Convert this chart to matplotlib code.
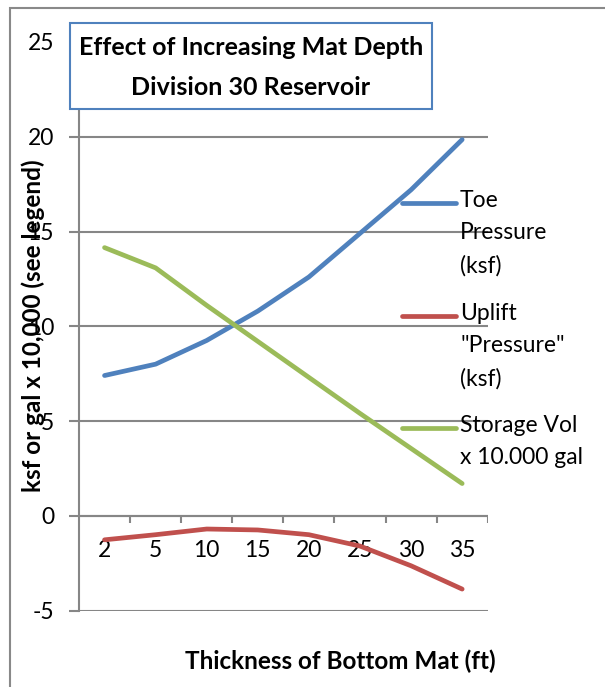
import numpy as np
import matplotlib.pyplot as plt
from matplotlib.lines import Line2D
from matplotlib.patches import Rectangle

plt.rcParams['font.family'] = ['Lato', 'DejaVu Sans']
plt.rcParams['axes.unicode_minus'] = False

# Mat thickness categories (ft)
thickness = ['2', '5', '10', '15', '20', '25', '30', '35']

# Series values
toe_pressure = [7.4, 8.0, 9.25, 10.8, 12.6, 14.9, 17.2, 19.85]
uplift_pressure = [-1.27, -1.0, -0.7, -0.75, -1.0, -1.6, -2.64, -3.87]
storage_vol = [14.15, 13.08, 11.1, 9.2, 7.3, 5.4, 3.55, 1.7]

series_names = ['Toe\nPressure\n(ksf)', 'Uplift\n"Pressure"\n(ksf)', 'Storage Vol\nx 10.000 gal']
colors = ['#4F81BD', '#C0504D', '#9BBB59']
grid_gray = '#868686'

W, H = 605, 687
fig = plt.figure(figsize=(W / 100, H / 100), dpi=100)

def fx(px):
    return px / W

def fy(py):
    return 1 - py / H

# outer chart border
fig.add_artist(Rectangle((fx(10), fy(720)), fx(640), fy(8) - fy(720),
                         transform=fig.transFigure, fill=False,
                         edgecolor='#898989', linewidth=1.5))

ax = fig.add_axes([fx(79), fy(610.5), fx(487.7) - fx(79), fy(42) - fy(610.5)])
x = np.arange(len(thickness))

ax.set_xlim(-0.5, len(thickness) - 0.5)
ax.set_ylim(-5, 25)
ax.set_yticks(np.arange(-5, 26, 5))
ax.yaxis.grid(True, color=grid_gray, linewidth=1.5)
ax.yaxis.get_gridlines()[-1].set_visible(False)
ax.set_axisbelow(True)
for side in ['top', 'right', 'bottom']:
    ax.spines[side].set_visible(False)
ax.spines['left'].set_color(grid_gray)
ax.spines['left'].set_linewidth(1.5)
ax.tick_params(axis='y', length=7, width=1.5, color=grid_gray, labelsize=16.5, pad=11)
ax.set_xticks([])

# category axis crossing at zero, with tick marks between categories
ax.axhline(0, color=grid_gray, linewidth=1.5, zorder=1)
ax.vlines(x + 0.5, -0.37, 0, color=grid_gray, linewidth=1.5, zorder=1)
for i, lab in enumerate(thickness):
    ax.annotate(lab, xy=(i, 0), xytext=(0, -25), textcoords='offset points',
                ha='center', va='center', fontsize=16.5)

for vals, c in zip([toe_pressure, uplift_pressure, storage_vol], colors):
    ax.plot(x, vals, color=c, linewidth=3.4, solid_capstyle='round', zorder=3)

# axis titles
fig.text(fx(33), fy(326), 'ksf or gal x 10,000 (see legend)', rotation=90,
         ha='center', va='center', fontsize=17.5, fontweight='bold')
fig.text(fx(340), fy(661), 'Thickness of Bottom Mat (ft)',
         ha='center', va='center', fontsize=17.5, fontweight='bold')

# chart title box
fig.add_artist(Rectangle((fx(70), fy(109)), fx(432) - fx(70), fy(23) - fy(109),
                         transform=fig.transFigure, facecolor='white',
                         edgecolor='#4F81BD', linewidth=1.5, zorder=5))
fig.text(fx(251), fy(67.5), 'Effect of Increasing Mat Depth\nDivision 30 Reservoir',
         ha='center', va='center', fontsize=18, fontweight='bold',
         linespacing=1.9, zorder=6)

# legend entries
legend_rows = [203, 316, 428]
for name, c, py in zip(series_names, colors, legend_rows):
    fig.add_artist(Line2D([fx(402), fx(456)], [fy(py), fy(py)], color=c,
                          linewidth=3.4, solid_capstyle='round',
                          transform=fig.transFigure))
    fig.text(fx(460), fy(py - 13), name, ha='left', va='top', fontsize=16.5,
             linespacing=1.66)

fig.savefig('out.png', dpi=100)
